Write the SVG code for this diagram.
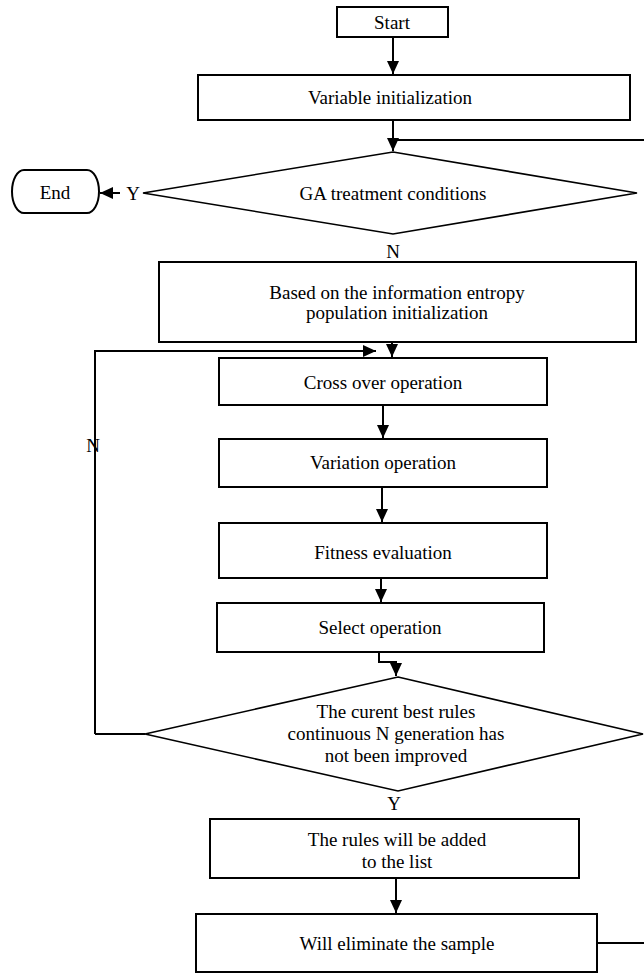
<svg xmlns="http://www.w3.org/2000/svg" width="644" height="974" viewBox="0 0 644 974">
<defs>
<marker id="ah" markerUnits="userSpaceOnUse" markerWidth="14" markerHeight="14" viewBox="0 0 14 14" refX="13" refY="7" orient="auto">
<path d="M0,1 L13,7 L0,13 Z" fill="#000"/>
</marker>
<style>
.box{fill:#fff;stroke:#000;stroke-width:2}
.dia{fill:#fff;stroke:#000;stroke-width:1.6}
.ln{fill:none;stroke:#000;stroke-width:2}
.t{font-family:"Liberation Serif","Times New Roman",serif;font-size:19px;fill:#000;text-anchor:middle}
</style>
</defs>
<rect width="644" height="974" fill="#fff"/>
<g id="connectors">
<path class="ln" d="M393,37 V74" marker-end="url(#ah)"/>
<path class="ln" d="M393,120 V151" marker-end="url(#ah)"/>
<path class="ln" d="M393,140 H644"/>
<path class="ln" d="M120,193 H100" marker-end="url(#ah)"/>
<path class="ln" d="M392,343 V357" marker-end="url(#ah)"/>
<path class="ln" d="M95,734 V351 H376" marker-end="url(#ah)"/>
<path class="ln" d="M95,734 H145"/>
<path class="ln" d="M383,405 V438" marker-end="url(#ah)"/>
<path class="ln" d="M382,487 V522" marker-end="url(#ah)"/>
<path class="ln" d="M381,578 V602" marker-end="url(#ah)"/>
<path class="ln" d="M379,652 V662 H396 V676" marker-end="url(#ah)"/>
<path class="ln" d="M396,878 V913" marker-end="url(#ah)"/>
<path class="ln" d="M597,943 H644"/>
</g>
<g id="start"><rect class="box" x="337" y="7" width="111" height="30"/><text class="t" x="392" y="29">Start</text></g>
<g id="var-init"><rect class="box" x="198" y="75" width="432" height="45"/><text class="t" x="390" y="104">Variable initialization</text></g>
<g id="ga-cond"><polygon class="dia" points="393,152 637,193 393,234 143,193"/><text class="t" x="393" y="200">GA treatment conditions</text></g>
<g id="end"><path class="box" d="M24,170 H87 A12,21.5 0 0 1 87,213 H24 A12,21.5 0 0 1 24,170 Z"/><text class="t" x="55" y="199">End</text></g>
<text class="t" x="133" y="200">Y</text>
<text class="t" x="393" y="258">N</text>
<g id="pop-init"><rect class="box" x="159" y="262" width="477" height="80"/><text class="t" x="397" y="299">Based on the information entropy</text><text class="t" x="397" y="319">population initialization</text></g>
<g id="cross"><rect class="box" x="219" y="358" width="328" height="47"/><text class="t" x="383" y="389">Cross over operation</text></g>
<g id="variation"><rect class="box" x="219" y="439" width="328" height="48"/><text class="t" x="383" y="469">Variation operation</text></g>
<g id="fitness"><rect class="box" x="219" y="523" width="328" height="55"/><text class="t" x="383" y="559">Fitness evaluation</text></g>
<g id="select"><rect class="box" x="217" y="603" width="327" height="49"/><text class="t" x="380" y="634">Select operation</text></g>
<g id="best-rules"><polygon class="dia" points="398,677 643,734 398,791 145,734"/><text class="t" x="396" y="718">The curent best rules</text><text class="t" x="396" y="740">continuous N generation has</text><text class="t" x="396" y="762">not been improved</text></g>
<text class="t" x="93" y="452">N</text>
<text class="t" x="394" y="810">Y</text>
<g id="add-list"><rect class="box" x="210" y="819" width="369" height="59"/><text class="t" x="397" y="846">The rules will be added</text><text class="t" x="397" y="868">to the list</text></g>
<g id="eliminate"><rect class="box" x="196" y="914" width="401" height="58"/><text class="t" x="397" y="950">Will eliminate the sample</text></g>
</svg>
